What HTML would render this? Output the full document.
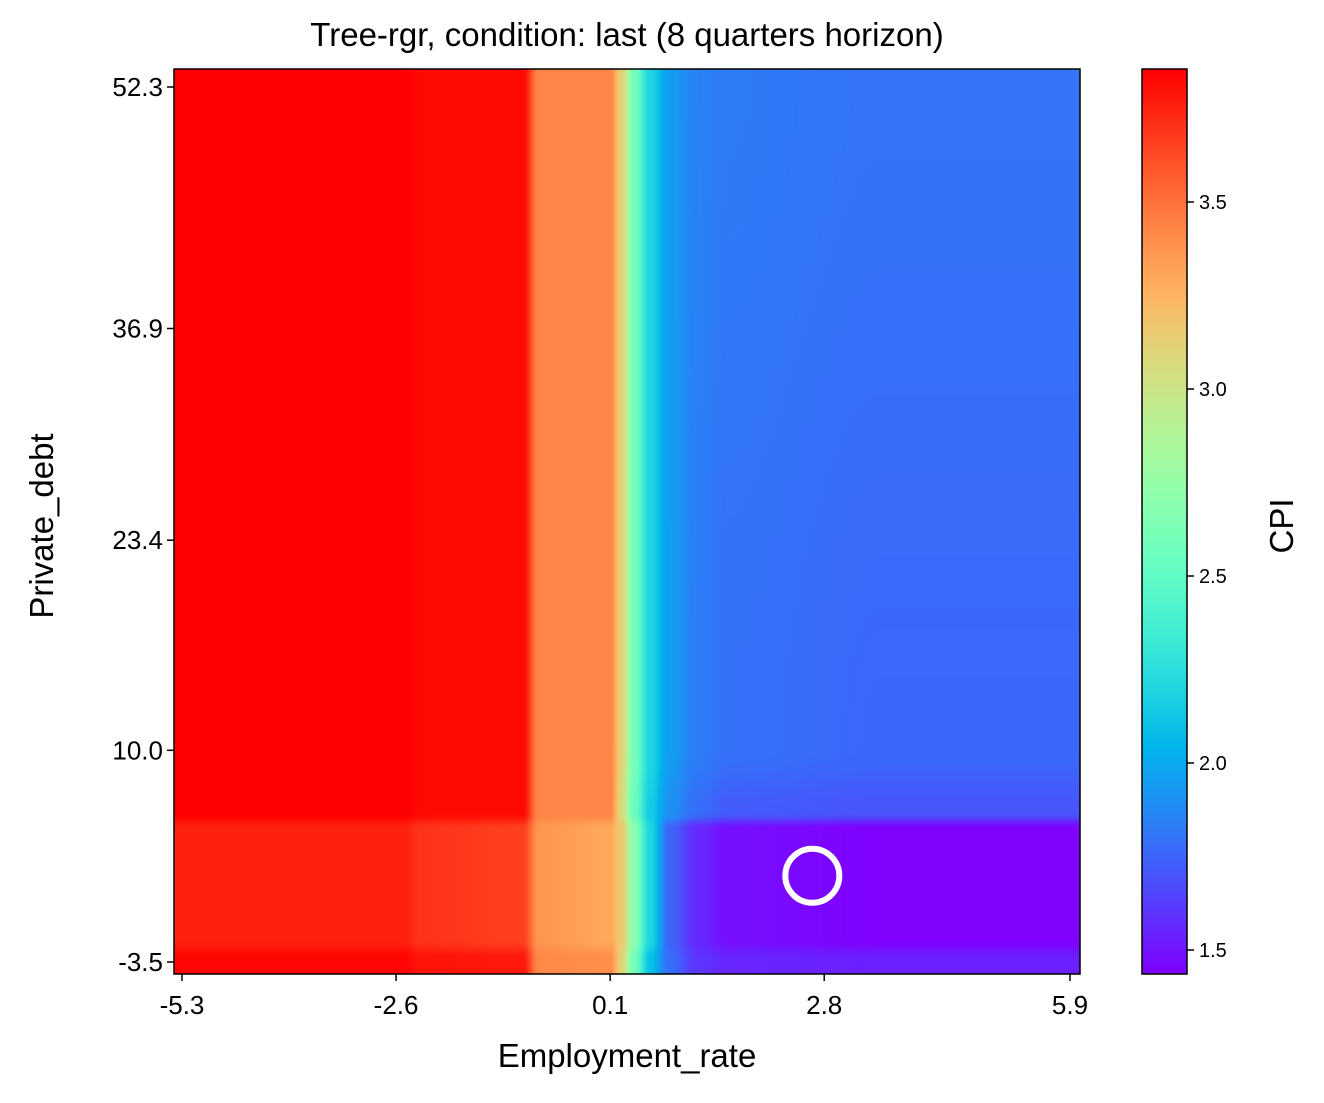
<!DOCTYPE html>
<html><head><meta charset="utf-8">
<style>
body{margin:0;background:#fff;font-family:"Liberation Sans","DejaVu Sans",sans-serif;}
#wrap{position:relative;width:1324px;height:1103px;overflow:hidden;}
.t{position:absolute;white-space:nowrap;color:#000;}
</style></head>
<body>
<div id="wrap">
<canvas id="hm" width="906" height="905" style="position:absolute;left:174px;top:69px;"></canvas>
<canvas id="cb" width="45" height="905" style="position:absolute;left:1142px;top:69px;"></canvas>
<svg id="ov" width="1324" height="1103" style="position:absolute;left:0;top:0;"></svg>
<div class="t" style="left:0;width:1254px;top:16px;text-align:center;font-size:33px;">Tree-rgr, condition: last (8 quarters horizon)</div>
<div class="t" style="left:174px;width:906px;top:1037px;text-align:center;font-size:33px;">Employment_rate</div>
<div class="t" style="left:42px;top:526px;font-size:33px;transform:translate(-50%,-50%) rotate(-90deg);">Private_debt</div>
<div class="t" style="left:1282px;top:526px;font-size:33px;transform:translate(-50%,-50%) rotate(-90deg);">CPI</div>
</div>
<script>
const xTickLabels=["-5.3","-2.6","0.1","2.8","5.9"];
const xTickValues=[-5.3,-2.6,0.1,2.8,5.9];
const yTickLabels=["52.3","36.9","23.4","10.0","-3.5"];
const yTickValues=[52.3,36.9,23.4,10.0,-3.5];
const cbTickValues=[1.5,2.0,2.5,3.0,3.5];
const cbTickLabels=["1.5","2.0","2.5","3.0","3.5"];
const gridX=[-5.4,-2.5,-2.3,-1.0,-0.8,0.1,0.25,0.4,0.6,0.85,1.2,1.6,3.5,6.03];
const gridY=[53.45,10,6,5.0,-2.1,-3.3,-4.27];
const gridZ=[
[3.86,3.86,3.83,3.83,3.43,3.43,3.10,2.60,2.20,1.95,1.85,1.82,1.80,1.80],
[3.86,3.86,3.83,3.83,3.43,3.43,3.10,2.60,2.20,1.95,1.83,1.79,1.76,1.76],
[3.86,3.86,3.83,3.83,3.43,3.43,3.05,2.55,2.15,1.90,1.78,1.72,1.70,1.70],
[3.76,3.76,3.70,3.66,3.37,3.30,3.15,2.70,2.20,1.75,1.56,1.48,1.44,1.44],
[3.76,3.76,3.70,3.66,3.37,3.30,3.15,2.70,2.20,1.75,1.56,1.48,1.44,1.44],
[3.84,3.84,3.80,3.78,3.42,3.40,3.10,2.60,2.10,1.78,1.60,1.55,1.53,1.53],
[3.84,3.84,3.80,3.78,3.42,3.40,3.10,2.60,2.10,1.78,1.60,1.55,1.53,1.53]];
const circlePoint=[2.65,2.0];
const zMin=1.436,zMax=3.856;

const PL=174,PR=1080,PT=69,PB=974;
function xS(v){return 182+(v+5.3)*(1070-182)/11.2;}
function yS(v){return 87+(52.3-v)*(962-87)/55.8;}
function xInv(p){return (p-182)*11.2/(1070-182)-5.3;}
function yInv(p){return 52.3-(p-87)*55.8/(962-87);}
function cS(v){return 950-(v-1.5)*374;}
function rainbow(t){t=Math.max(0,Math.min(1,t));
 return [Math.abs(2*t-0.5)*255, Math.sin(Math.PI*t)*255, Math.cos(Math.PI*t/2)*255].map(v=>Math.round(Math.min(255,v)));}
function seg(arr,v,desc){for(let i=0;i<arr.length-1;i++){const a=arr[i],b=arr[i+1];
 if(desc?(v<=a&&v>=b):(v>=a&&v<=b)){return [i,(v-a)/(b-a)];}}
 return v<(desc?arr[arr.length-1]:arr[0])?(desc?[arr.length-2,1]:[0,0]):(desc?[0,0]:[arr.length-2,1]);}
function smooth(t){return t*t*(3-2*t);}
const hm=document.getElementById('hm').getContext('2d');
const img=hm.createImageData(906,905);
const W=906,H=905;
const cols=[];for(let px=0;px<W;px++)cols.push(seg(gridX,xInv(PL+px+0.5),false));
for(let py=0;py<H;py++){const [j,ty0]=seg(gridY,yInv(PT+py+0.5),true);const ty=smooth(ty0);
 for(let px=0;px<W;px++){const [i,tx0]=cols[px];const tx=smooth(tx0);
  const z=(gridZ[j][i]*(1-tx)+gridZ[j][i+1]*tx)*(1-ty)+(gridZ[j+1][i]*(1-tx)+gridZ[j+1][i+1]*tx)*ty;
  const c=rainbow((z-zMin)/(zMax-zMin));const k=(py*W+px)*4;
  img.data[k]=c[0];img.data[k+1]=c[1];img.data[k+2]=c[2];img.data[k+3]=255;}}
hm.putImageData(img,0,0);
const cb=document.getElementById('cb').getContext('2d');
for(let py=0;py<905;py++){const c=rainbow(1-py/904);cb.fillStyle=`rgb(${c[0]},${c[1]},${c[2]})`;cb.fillRect(0,py,45,1);}
const NS='http://www.w3.org/2000/svg',ov=document.getElementById('ov');
function el(tag,attrs,txt){const e=document.createElementNS(NS,tag);for(const k in attrs)e.setAttribute(k,attrs[k]);if(txt!==undefined)e.textContent=txt;ov.appendChild(e);return e;}
const circ=el('circle',{cx:xS(circlePoint[0]),cy:yS(circlePoint[1]),r:27,fill:'none',stroke:'#fff','stroke-width':6});


const fr=el('rect',{x:PL,y:PT,width:PR-PL,height:PB-PT,fill:'none',stroke:'#000','stroke-width':1.5});


const cfr=el('rect',{x:1142,y:69,width:45,height:905,fill:'none',stroke:'#000','stroke-width':1.5});


xTickValues.forEach((v,i)=>{const x=xS(v);
 el('line',{x1:x,x2:x,y1:PB,y2:PB+7,stroke:'#000','stroke-width':1.5});
 const t=el('text',{x:x,y:PB+40,'text-anchor':'middle',style:'font-size:26px;font-family:"Liberation Sans",sans-serif'},xTickLabels[i]);
 
 });
yTickValues.forEach((v,i)=>{const y=yS(v);
 el('line',{x1:PL-7,x2:PL,y1:y,y2:y,stroke:'#000','stroke-width':1.5});
 const t=el('text',{x:PL-11,y:y+9,'text-anchor':'end',style:'font-size:26px;font-family:"Liberation Sans",sans-serif'},yTickLabels[i]);
 
 });
cbTickValues.forEach((v,i)=>{const y=cS(v);
 el('line',{x1:1187,x2:1194,y1:y,y2:y,stroke:'#000','stroke-width':1.5});
 const t=el('text',{x:1199,y:y+7,style:'font-size:20px;font-family:"Liberation Sans",sans-serif'},cbTickLabels[i]);
 
 });
</script>
</body></html>
